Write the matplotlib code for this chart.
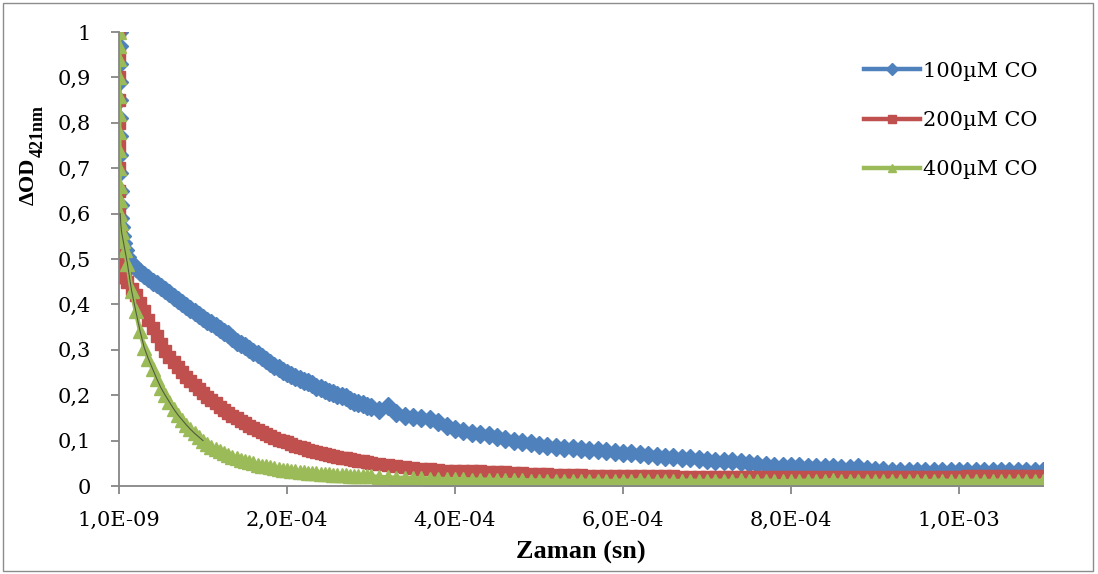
import numpy as np
import matplotlib
matplotlib.use("Agg")
import matplotlib.pyplot as plt
from matplotlib.patches import Rectangle

# time points (microseconds): fast start, 5 us sampling to 300 us, then 10 us
t_early = [0.001, 0.02, 0.05, 0.1, 0.15, 0.2, 0.3, 0.4, 0.5, 0.7, 1.0, 1.5, 2.0, 3.0, 5.0, 7.0]
t_fast = np.arange(10, 301, 5)
t_slow = np.arange(310, 1101, 10)
time_s = np.concatenate([t_early, t_fast, t_slow]) * 1e-6

co100 = [1.0, 0.97, 0.93, 0.89, 0.85, 0.81, 0.77, 0.73, 0.69, 0.65, 0.62, 0.59, 0.57, 0.55, 0.535, 0.52,
         0.505, 0.49, 0.48, 0.472, 0.465, 0.458, 0.45, 0.445, 0.438, 0.432,
         0.425, 0.417, 0.41, 0.404, 0.396, 0.39, 0.383, 0.377, 0.37, 0.364,
         0.358, 0.352, 0.346, 0.34, 0.334, 0.325, 0.318, 0.313, 0.308, 0.302,
         0.296, 0.29, 0.284, 0.278, 0.272, 0.265, 0.259, 0.254, 0.249, 0.245,
         0.241, 0.236, 0.232, 0.228, 0.224, 0.219, 0.215, 0.211, 0.208, 0.204,
         0.201, 0.198, 0.195, 0.19, 0.186, 0.183, 0.18, 0.176, 0.173,
         0.167, 0.176, 0.16, 0.155, 0.152, 0.15, 0.147, 0.14, 0.132, 0.126,
         0.121, 0.117, 0.115, 0.112, 0.108, 0.104, 0.1, 0.097, 0.094, 0.09,
         0.088, 0.085, 0.083, 0.083, 0.082, 0.08, 0.079, 0.077, 0.075, 0.073,
         0.072, 0.07, 0.068, 0.066, 0.064, 0.063, 0.062, 0.061, 0.059, 0.057,
         0.055, 0.055, 0.054, 0.052, 0.05, 0.048, 0.047, 0.045, 0.044, 0.043,
         0.043, 0.042, 0.042, 0.041, 0.041, 0.04, 0.04, 0.041, 0.038, 0.036,
         0.035, 0.034, 0.034, 0.034, 0.034, 0.033, 0.033, 0.033, 0.033, 0.033,
         0.033, 0.033, 0.032, 0.032, 0.032, 0.032, 0.032, 0.032, 0.032, 0.033]

co200 = [1.0, 0.95, 0.9, 0.85, 0.8, 0.75, 0.7, 0.65, 0.6, 0.56, 0.52, 0.49, 0.47, 0.46, 0.46, 0.46,
         0.45, 0.435, 0.42, 0.402, 0.385, 0.366, 0.347, 0.33, 0.312, 0.298,
         0.285, 0.273, 0.262, 0.251, 0.24, 0.231, 0.222, 0.213, 0.205, 0.197,
         0.19, 0.182, 0.174, 0.167, 0.161, 0.155, 0.149, 0.143, 0.138, 0.133,
         0.128, 0.123, 0.119, 0.114, 0.11, 0.106, 0.102, 0.099, 0.096, 0.092,
         0.089, 0.086, 0.083, 0.08, 0.078, 0.075, 0.073, 0.07, 0.068, 0.066,
         0.064, 0.062, 0.061, 0.059, 0.058, 0.056, 0.054, 0.052, 0.05,
         0.048, 0.046, 0.044, 0.042, 0.04, 0.038, 0.037, 0.036, 0.034, 0.033,
         0.033, 0.032, 0.032, 0.031, 0.03, 0.03, 0.029, 0.028, 0.027, 0.026,
         0.026, 0.025, 0.025, 0.024, 0.024, 0.023, 0.023, 0.022, 0.022, 0.022,
         0.022, 0.021, 0.021, 0.021, 0.021, 0.021, 0.02, 0.02, 0.02, 0.02,
         0.02, 0.02, 0.02, 0.02, 0.02, 0.02, 0.02, 0.02, 0.02, 0.02,
         0.02, 0.02, 0.02, 0.02, 0.02, 0.02, 0.02, 0.02, 0.02, 0.02,
         0.02, 0.02, 0.02, 0.02, 0.02, 0.02, 0.02, 0.02, 0.02, 0.02,
         0.021, 0.021, 0.021, 0.022, 0.022, 0.022, 0.022, 0.022, 0.022, 0.022]

co400 = [1.0, 0.97, 0.94, 0.9, 0.86, 0.82, 0.78, 0.74, 0.7, 0.66, 0.63, 0.6, 0.58, 0.56, 0.54, 0.52,
         0.49, 0.43, 0.385, 0.342, 0.305, 0.28, 0.258, 0.236, 0.216, 0.2,
         0.185, 0.17, 0.157, 0.146, 0.135, 0.125, 0.116, 0.108, 0.1, 0.093,
         0.086, 0.081, 0.076, 0.072, 0.068, 0.064, 0.061, 0.058, 0.055, 0.052,
         0.05, 0.047, 0.045, 0.043, 0.041, 0.039, 0.038, 0.036, 0.035, 0.033,
         0.032, 0.031, 0.03, 0.029, 0.028, 0.028, 0.027, 0.026, 0.026, 0.025,
         0.025, 0.024, 0.024, 0.023, 0.023, 0.022, 0.022, 0.021, 0.021,
         0.02, 0.019, 0.018, 0.018, 0.017, 0.017, 0.016, 0.016, 0.015, 0.015,
         0.015, 0.014, 0.014, 0.014, 0.013, 0.013, 0.013, 0.013, 0.012, 0.012,
         0.012, 0.011, 0.012, 0.011, 0.012, 0.011, 0.012, 0.011, 0.011, 0.012,
         0.011, 0.013, 0.011, 0.011, 0.012, 0.011, 0.011, 0.012, 0.011, 0.011,
         0.012, 0.011, 0.011, 0.013, 0.011, 0.011, 0.012, 0.011, 0.01, 0.011,
         0.011, 0.012, 0.011, 0.011, 0.013, 0.011, 0.011, 0.012, 0.011, 0.011,
         0.011, 0.012, 0.011, 0.011, 0.012, 0.011, 0.011, 0.012, 0.011, 0.011,
         0.011, 0.012, 0.011, 0.011, 0.012, 0.011, 0.012, 0.011, 0.011, 0.012]

labels = ["100µM CO", "200µM CO", "400µM CO"]
x_ticks = [1e-9, 2e-4, 4e-4, 6e-4, 8e-4, 1e-3]
x_ticklabels = ["1,0E-09", "2,0E-04", "4,0E-04", "6,0E-04", "8,0E-04", "1,0E-03"]
y_ticks = [0, 0.1, 0.2, 0.3, 0.4, 0.5, 0.6, 0.7, 0.8, 0.9, 1.0]
y_ticklabels = ["0", "0,1", "0,2", "0,3", "0,4", "0,5", "0,6", "0,7", "0,8", "0,9", "1"]

blue = "#4F81BD"
red = "#C0504D"
green = "#9BBB59"
axis_gray = "#868686"

fig = plt.figure(figsize=(10.98, 5.74), dpi=100)
ax = fig.add_axes([119 / 1098, 1 - 486 / 574, (1043 - 119) / 1098, (486 - 32) / 574])

ax.plot(time_s, co100, color=blue, lw=3.2, marker="D", ms=9.5, mec=blue, label=labels[0])
ax.plot(time_s, co200, color=red, lw=3.2, marker="s", ms=8.5, mec=red, label=labels[1])
ax.plot(time_s, co400, color=green, lw=3.2, marker="^", ms=10, mec=green, label=labels[2])
# thin fit line over the fast part of the 400 uM trace
ax.plot(time_s[11:35], co400[11:35], color="#333333", lw=0.8, alpha=0.7, zorder=5)

ax.set_xlim(1e-9, 1.1e-3)
ax.set_ylim(0, 1)
ax.set_xticks(x_ticks)
ax.set_xticklabels(x_ticklabels)
ax.set_yticks(y_ticks)
ax.set_yticklabels(y_ticklabels)

for side in ["top", "right"]:
    ax.spines[side].set_visible(False)
for side in ["left", "bottom"]:
    ax.spines[side].set_color(axis_gray)
    ax.spines[side].set_linewidth(1.3)

ax.tick_params(axis="both", colors=axis_gray, width=1.3, length=6, labelcolor="black")
ax.tick_params(axis="y", pad=14)
ax.tick_params(axis="x", pad=12)
for lab in ax.get_xticklabels() + ax.get_yticklabels():
    lab.set_fontfamily("DejaVu Serif")
    lab.set_fontsize(15)

ax.set_xlabel("Zaman (sn)", fontfamily="Liberation Serif", fontweight="bold", fontsize=19, labelpad=8)

fig.text(29 / 1098, 1 - 205 / 574, "ΔOD", rotation=90, ha="center", va="bottom",
         fontfamily="Liberation Serif", fontweight="bold", fontsize=16)
fig.text(38 / 1098, 1 - 157 / 574, "421nm", rotation=90, ha="center", va="bottom",
         fontfamily="Liberation Serif", fontweight="bold", fontsize=13)

leg = ax.legend(loc="upper left", bbox_to_anchor=(845 / 1098, 1 - 43 / 574), bbox_transform=fig.transFigure,
                frameon=False, numpoints=1, handlelength=2.7, handletextpad=0.15, labelspacing=1.45,
                prop={"family": "DejaVu Serif", "size": 15}, markerscale=0.6)

fig.patches.append(Rectangle((3 / 1098, 3 / 574), 1090 / 1098, 568 / 574, transform=fig.transFigure,
                             fill=False, edgecolor="#8C8C8C", lw=1.0))

fig.savefig("out.png", dpi=100)
